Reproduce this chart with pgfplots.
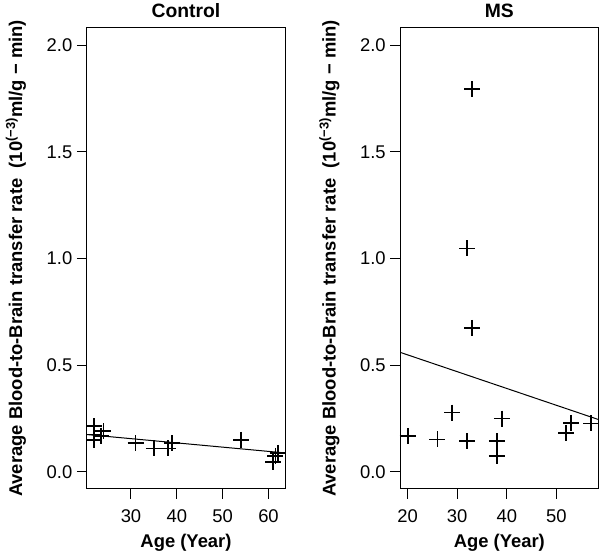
\documentclass[border=0pt]{standalone}
\usepackage{pgfplots}
\pgfplotsset{compat=1.18}
\usepackage{fontspec}
\setmainfont{Liberation Sans}

% R-style panel: 1px = 0.75pt
\pgfplotsset{
  rpanel/.style={
    scale only axis,
    width=148.5pt, height=345.75pt,
    anchor=south west,
    axis line style={line width=0.75pt},
    tick style={line width=0.75pt, black},
    tick align=outside,
    major tick length=7.5pt,
    tick pos=left,
    ymin=-0.08, ymax=2.08,
    ytick={0,0.5,1,1.5,2},
    y tick label style={/pgf/number format/fixed, /pgf/number format/fixed zerofill, /pgf/number format/precision=1},
    x tick label style={yshift=-4.5pt},
    /pgf/number format/assume math mode=true,
    tick label style={font=\fontsize{13.8}{16}\selectfont},
    label style={font=\fontsize{13.8}{16}\selectfont\bfseries},
    every axis title shift=0pt,
    title style={font=\fontsize{14.5}{17}\selectfont\bfseries, at={(axis description cs:0.5,1.0375)}, anchor=center},
    xlabel style={at={(axis description cs:0.5,-0.117)}, anchor=center},
    ylabel style={at={(axis description cs:-0.3586,0.5)}, anchor=center},
    xlabel={Age (Year)},
    ylabel={Average Blood-to-Brain transfer rate\ \ (10\textsuperscript{(−3)}ml/g − min)},
  },
  pts/.style={only marks, mark=+, mark size=6pt, mark options={line width=1.3pt, black}},
  fit/.style={black, line width=0.75pt, no marks},
}

\begin{document}
\begin{tikzpicture}
\useasboundingbox (0,0) rectangle (450pt,416.25pt);

\begin{axis}[rpanel, at={(65.25pt,49.5pt)},
    title={Control},
    xmin=20.4, xmax=63.6, xtick={30,40,50,60}]
\addplot[fit] coordinates {(20.4,0.175) (63.6,0.089)};
\addplot[pts] coordinates {
  (22,0.215) (22,0.150) (22,0.175) (23.4,0.170) (24,0.190)
  (31,0.135) (35,0.110) (38,0.110) (39,0.135)
  (54,0.150) (61,0.047) (62,0.089) (61.5,0.075)
};
\end{axis}

\begin{axis}[rpanel, at={(300.25pt,49.5pt)},
    title={MS},
    xmin=18.52, xmax=58.48, xtick={20,30,40,50}]
\addplot[fit] coordinates {(18.52,0.560) (58.48,0.2456)};
\addplot[pts] coordinates {
  (20,0.167) (26,0.152) (29,0.278) (32,0.144) (32,1.047)
  (33,1.793) (33,0.675) (38,0.144) (38,0.074) (39,0.250)
  (52,0.183) (53,0.230) (57,0.227)
};
\end{axis}
\end{tikzpicture}
\end{document}
